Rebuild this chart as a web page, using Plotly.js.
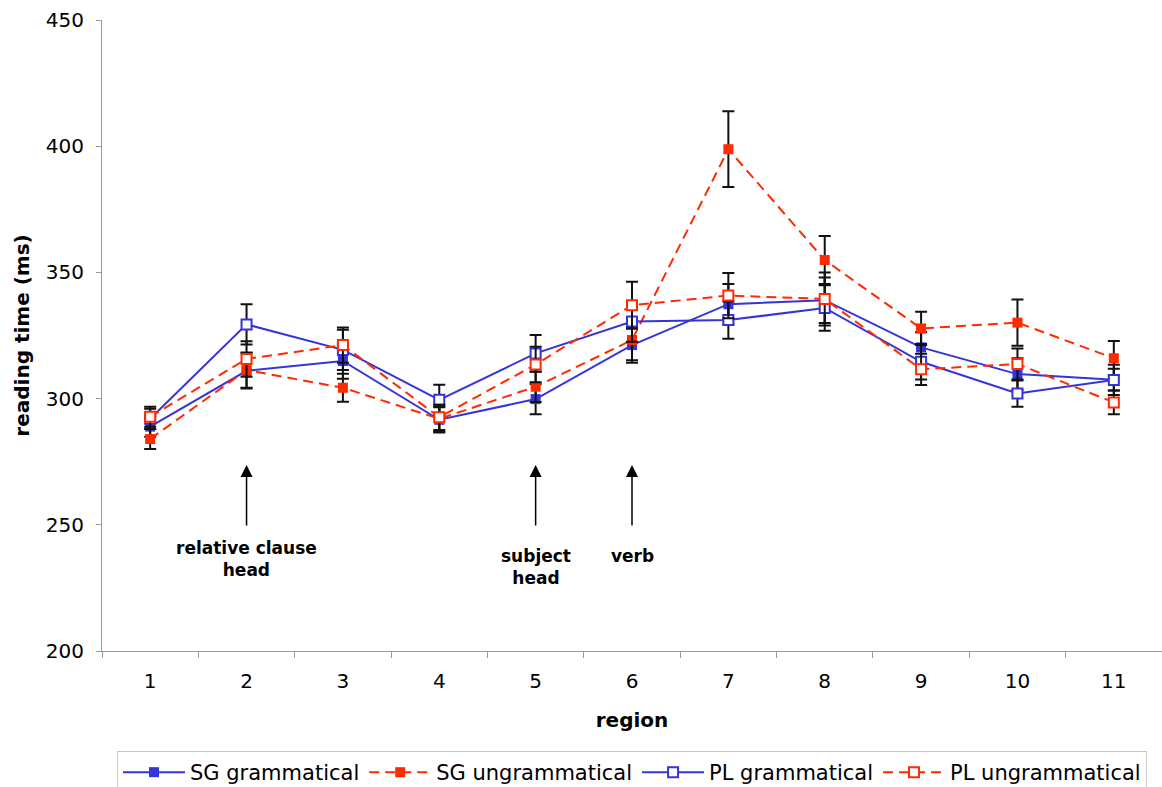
<!DOCTYPE html>
<html>
<head>
<meta charset="utf-8">
<script src="https://cdn.plot.ly/plotly-3.0.1.min.js"></script>
<style>html,body{margin:0;padding:0;background:#fff;overflow:hidden;}#chart{width:1162px;height:787px;}</style>
</head>
<body>
<div id="chart"></div>
<script>
const regions = ['1','2','3','4','5','6','7','8','9','10','11'];
const sgGram = [288.9, 311.0, 314.9, 291.6, 299.8, 321.2, 337.4, 339.0, 320.3, 309.7, 307.5];
const sgUngr = [284.0, 311.3, 304.3, 292.0, 304.7, 323.2, 398.8, 354.9, 327.8, 330.1, 316.0];
const plGram = [292.0, 329.4, 319.3, 299.5, 317.9, 330.5, 331.1, 335.9, 314.6, 302.0, 307.4];
const plUngr = [292.8, 315.7, 321.2, 292.6, 313.5, 337.0, 340.8, 339.5, 311.6, 313.7, 298.5];
const sgGramErr = [4, 7, 7, 5, 6, 7, 8, 9, 6, 6.3, 4.3];
const sgUngrErr = [4, 7, 5.5, 5, 6, 8, 15, 9.5, 6.6, 9.2, 6.8];
const plGramErr = [4, 8, 8, 6, 7.3, 8, 7.4, 9, 7, 5.2, 6];
const plUngrErr = [4, 7, 7, 5, 7, 9.3, 9, 10.5, 6.2, 6.1, 4.7];
const markRegions = ['2', '5', '6'];
const markLabels = ['relative clause<br>head', 'subject<br>head', 'verb'];
const markTipValue = 273.7;
const markLabelValues = [236.4, 233.3, 237.6];

const blue = '#3434d8';
const red = '#ff2a00';

function trace(name, y, err, color, dash, filled) {
  return {
    type: 'scatter', mode: 'lines+markers', name: name,
    x: regions, y: y,
    line: {color: color, width: 2, dash: dash},
    marker: {symbol: 'square', size: 10,
             color: filled ? color : '#ffffff',
             line: {color: color, width: filled ? 0 : 2}},
    error_y: {type: 'data', array: err, visible: true, color: '#111111', thickness: 2, width: 6}
  };
}

const data = [
  trace('SG grammatical', sgGram, sgGramErr, blue, 'solid', true),
  trace('SG ungrammatical', sgUngr, sgUngrErr, red, '10px,6px', true),
  trace('PL grammatical', plGram, plGramErr, blue, 'solid', false),
  trace('PL ungrammatical', plUngr, plUngrErr, red, '10px,6px', false)
];

const annotations = [];
markRegions.forEach((r, i) => {
  const xi = regions.indexOf(r);
  annotations.push({
    x: xi, y: markTipValue, xref: 'x', yref: 'y',
    ax: 0, ay: 62, axref: 'pixel', ayref: 'pixel',
    showarrow: true, arrowhead: 2, arrowsize: 1.6, arrowwidth: 1.5, arrowcolor: '#000',
    text: ''
  });
  annotations.push({
    x: xi, y: markLabelValues[i], xref: 'x', yref: 'y',
    showarrow: false, text: '<b>' + markLabels[i] + '</b>',
    font: {family: 'DejaVu Sans', size: 17, color: '#000'},
    align: 'center', xanchor: 'center', yanchor: 'middle'
  });
});

const layout = {
  width: 1162, height: 787,
  margin: {l: 102, r: 0, t: 20, b: 136},
  paper_bgcolor: '#ffffff', plot_bgcolor: '#ffffff',
  font: {family: 'DejaVu Sans', size: 20, color: '#000'},
  showlegend: true,
  legend: {
    orientation: 'h', xref: 'paper', x: 0.5, xanchor: 'center',
    yref: 'container', y: 0.0457, yanchor: 'top',
    bordercolor: '#c8c8c8', borderwidth: 1, itemwidth: 62,
    font: {family: 'DejaVu Sans', size: 21, color: '#000'},
    traceorder: 'normal'
  },
  xaxis: {
    type: 'category', range: [-0.5, 10.5],
    showline: true, linecolor: '#9a9a9a', linewidth: 1,
    ticks: 'outside', tickson: 'boundaries', ticklen: 6, tickcolor: '#9a9a9a',
    showgrid: false, zeroline: false, ticklabelstandoff: 12,
    tickfont: {family: 'DejaVu Sans', size: 20, color: '#000'},
    title: {text: '<b>region</b>', font: {family: 'DejaVu Sans', size: 20, color: '#000'}, standoff: 20}
  },
  yaxis: {
    range: [200, 450], tickvals: [200, 250, 300, 350, 400, 450],
    showline: true, linecolor: '#9a9a9a', linewidth: 1,
    ticks: 'outside', ticklen: 5, tickcolor: '#9a9a9a',
    showgrid: false, zeroline: false, ticklabelstandoff: 8,
    tickfont: {family: 'DejaVu Sans', size: 20, color: '#000'},
    title: {text: '<b>reading time (ms)</b>', font: {family: 'DejaVu Sans', size: 20, color: '#000'}, standoff: 10}
  },
  annotations: annotations
};

Plotly.newPlot('chart', data, layout, {displayModeBar: false, staticPlot: true});
</script>
</body>
</html>
